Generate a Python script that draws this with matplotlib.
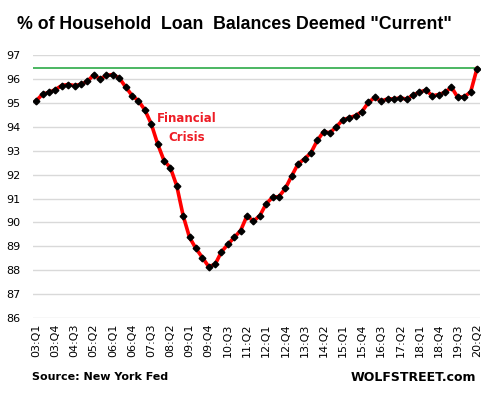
import matplotlib
matplotlib.use("Agg")
import matplotlib.pyplot as plt

quarters = [f"{y:02d}:Q{q}" for y in range(3, 21) for q in range(1, 5)][:70]
values = [95.09, 95.37, 95.44, 95.56, 95.73, 95.77, 95.73, 95.78, 95.90, 96.18,
          96.00, 96.15, 96.19, 96.04, 95.67, 95.31, 95.09, 94.71, 94.13, 93.29,
          92.59, 92.29, 91.53, 90.28, 89.37, 88.91, 88.53, 88.15, 88.24, 88.77,
          89.08, 89.37, 89.66, 90.28, 90.05, 90.28, 90.78, 91.05, 91.08, 91.42,
          91.95, 92.45, 92.66, 92.91, 93.43, 93.80, 93.75, 94.01, 94.29, 94.38,
          94.47, 94.64, 95.02, 95.23, 95.08, 95.17, 95.17, 95.21, 95.16, 95.33,
          95.45, 95.54, 95.30, 95.35, 95.44, 95.66, 95.23, 95.26, 95.45, 96.44]
ref_level = 96.45
yticks = list(range(86, 98))

fig = plt.figure(figsize=(4.93, 3.94), dpi=100)
ax = fig.add_axes([0.067, 0.193, 0.907, 0.667])

x = list(range(len(values)))
ax.axhline(ref_level, color="#1aa337", lw=1.1, zorder=2)
ax.plot(x, values, color="#ff0000", lw=2.6, zorder=3,
        marker="D", markersize=3.4, markerfacecolor="black",
        markeredgecolor="black")

ax.set_xlim(-0.5, len(values) - 0.5)
ax.set_ylim(86, 97)
ax.set_yticks(yticks)
ax.set_yticklabels([str(t) for t in yticks], fontsize=8)
ax.set_xticks(x[::3])
ax.set_xticklabels(quarters[::3], rotation=90, fontsize=8)
ax.grid(axis="y", color="#d9d9d9", lw=1)
ax.set_axisbelow(True)
for s in ax.spines.values():
    s.set_visible(False)
ax.tick_params(length=0, pad=4)
ax.tick_params(axis="y", pad=9)

ax.text(23.6, 93.94, "Financial\nCrisis", color="#ee1c25", fontsize=8.5,
        fontweight="bold", ha="center", va="center", linespacing=1.6)

fig.text(0.476, 0.938, '% of Household  Loan  Balances Deemed "Current"',
         ha="center", va="center", fontsize=12.8, fontweight="bold",
         family="Liberation Sans")
fig.text(0.065, 0.043, "Source: New York Fed", fontsize=8, fontweight="bold",
         ha="left", va="center")
fig.text(0.965, 0.043, "WOLFSTREET.com", fontsize=9, fontweight="bold",
         ha="right", va="center")

fig.savefig("out.png", dpi=100)
